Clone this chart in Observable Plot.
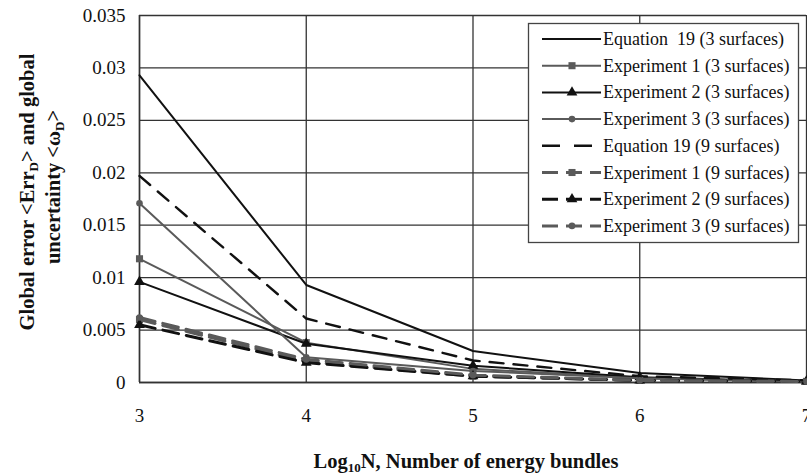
<!DOCTYPE html>
<html>
<head>
<meta charset="utf-8">
<script src="https://cdn.jsdelivr.net/npm/d3@7"></script>
<script src="https://cdn.jsdelivr.net/npm/@observablehq/plot@0.6"></script>
<style>
  html, body { margin: 0; padding: 0; background: #fff; }
  #chart svg { display: block; }
  #chart svg text { font-family: 'Liberation Serif', 'DejaVu Serif', serif; }
</style>
</head>
<body>
<div id="chart"></div>
<script>
// ---- data ----
const logN = [3, 4, 5, 6, 7];
const yTicks = [0, 0.005, 0.01, 0.015, 0.02, 0.025, 0.03, 0.035];
const yTickLabels = ["0", "0.005", "0.01", "0.015", "0.02", "0.025", "0.03", "0.035"];

const seriesNames = [
  "Equation  19 (3 surfaces)",
  "Experiment 1 (3 surfaces)",
  "Experiment 2 (3 surfaces)",
  "Experiment 3 (3 surfaces)",
  "Equation 19 (9 surfaces)",
  "Experiment 1 (9 surfaces)",
  "Experiment 2 (9 surfaces)",
  "Experiment 3 (9 surfaces)"
];
const eq19_3 = [0.0293, 0.0093, 0.0030, 0.0009, 0.0002];
const exp1_3 = [0.0118, 0.0038, 0.0013, 0.0004, 0.0001];
const exp2_3 = [0.0096, 0.0037, 0.0016, 0.0005, 0.0001];
const exp3_3 = [0.0171, 0.0024, 0.0011, 0.0004, 0.0001];
const eq19_9 = [0.0197, 0.0061, 0.0021, 0.0006, 0.0002];
const exp1_9 = [0.0060, 0.0020, 0.0006, 0.0002, 0.0001];
const exp2_9 = [0.0055, 0.0019, 0.0006, 0.0002, 0.0001];
const exp3_9 = [0.0062, 0.0022, 0.0007, 0.0002, 0.0001];

// ---- styles ----
const BLACK = "#111";
const GRAY = "#5a5a5a";
const styles = [
  {values: eq19_3, stroke: BLACK, width: 2, dash: null, symbol: null},
  {values: exp1_3, stroke: GRAY, width: 2, dash: null, symbol: "square"},
  {values: exp2_3, stroke: BLACK, width: 2, dash: null, symbol: "triangle"},
  {values: exp3_3, stroke: GRAY, width: 2, dash: null, symbol: "circle"},
  {values: eq19_9, stroke: BLACK, width: 2.4, dash: "14,10", symbol: null},
  {values: exp1_9, stroke: GRAY, width: 3, dash: "16,8", symbol: "square"},
  {values: exp2_9, stroke: BLACK, width: 3, dash: "16,8", symbol: "triangle"},
  {values: exp3_9, stroke: GRAY, width: 3, dash: "16,8", symbol: "circle"}
];

const marks = [
  Plot.gridX(logN, {stroke: "#333", strokeOpacity: 1, strokeWidth: 1.3}),
  Plot.gridY(yTicks, {stroke: "#333", strokeOpacity: 1, strokeWidth: 1.3}),
  Plot.ruleX([3], {stroke: "#333", strokeWidth: 1.5}),
  Plot.ruleY([0], {stroke: "#333", strokeWidth: 1.5})
];
styles.forEach((s, i) => {
  const data = logN.map((x, j) => ({x, y: s.values[j]}));
  marks.push(Plot.line(data, {
    x: "x", y: "y", stroke: s.stroke, strokeWidth: s.width,
    strokeDasharray: s.dash || undefined, strokeLinejoin: "round"
  }));
  if (s.symbol) {
    marks.push(Plot.dot(data, {
      x: "x", y: "y", symbol: () => s.symbol, fill: s.stroke, stroke: "none",
      r: s.symbol === "circle" ? 3.3 : 4
    }));
  }
});

const chart = Plot.plot({
  width: 807,
  height: 475,
  marginLeft: 139,
  marginRight: 1,
  marginTop: 15,
  marginBottom: 93,
  style: {fontSize: "19px", color: "#111", background: "#fff", overflow: "visible"},
  x: {domain: [3, 7], ticks: logN, tickSize: 0, tickPadding: 26, label: null, tickFormat: d => String(d)},
  y: {domain: [0, 0.035], ticks: yTicks, tickSize: 0, tickPadding: 14, label: null,
      tickFormat: d => yTickLabels[yTicks.findIndex(t => Math.abs(t - d) < 1e-9)]},
  symbol: {type: "identity"},
  marks
});

document.getElementById("chart").appendChild(chart);

// ---- axis titles & legend ----
const svg = d3.select(chart);

// y-axis title (two rotated lines)
const yt1 = svg.append("text")
  .attr("transform", "translate(34,192) rotate(-90)")
  .attr("text-anchor", "middle")
  .style("font-weight", "bold").style("font-size", "20.5px").attr("fill", "#111");
yt1.append("tspan").text("Global error <Err");
yt1.append("tspan").attr("font-size", "13px").attr("dy", 4).text("D");
yt1.append("tspan").attr("dy", -4).text("> and global");

const yt2 = svg.append("text")
  .attr("transform", "translate(60,187) rotate(-90)")
  .attr("text-anchor", "middle")
  .style("font-weight", "bold").style("font-size", "20.5px").attr("fill", "#111");
yt2.append("tspan").text("uncertainty <ω");
yt2.append("tspan").attr("font-size", "13px").attr("dy", 4).text("D");
yt2.append("tspan").attr("dy", -4).text(">");

// x-axis title
const xt = svg.append("text")
  .attr("x", 466).attr("y", 468)
  .attr("text-anchor", "middle")
  .style("font-weight", "bold").style("font-size", "20.5px").attr("fill", "#111");
xt.append("tspan").text("Log");
xt.append("tspan").attr("font-size", "13px").attr("dy", 4).text("10");
xt.append("tspan").attr("dy", -4).text("N, Number of energy bundles");

// legend
const lg = svg.append("g");
lg.append("rect").attr("x", 528.5).attr("y", 23.5).attr("width", 270).attr("height", 219)
  .attr("fill", "#fff").attr("stroke", "#444").attr("stroke-width", 1.3);
styles.forEach((s, i) => {
  const cy = 39 + i * 26.7;
  lg.append("line").attr("x1", 542).attr("x2", 601).attr("y1", cy).attr("y2", cy)
    .attr("stroke", s.stroke).attr("stroke-width", s.width)
    .attr("stroke-dasharray", s.dash ? (i === 4 ? "18,14" : "16,8") : null);
  if (s.symbol) {
    const sym = s.symbol === "square" ? d3.symbolSquare : s.symbol === "triangle" ? d3.symbolTriangle : d3.symbolCircle;
    const size = s.symbol === "circle" ? 34 : 50;
    lg.append("path").attr("d", d3.symbol(sym, size)()).attr("transform", `translate(572,${cy})`)
      .attr("fill", s.stroke);
  }
  lg.append("text").attr("x", 603).attr("y", cy + 6)
    .attr("text-anchor", "start")
    .style("font-size", "18px").attr("fill", "#111")
    .text(seriesNames[i]);
});
</script>
</body>
</html>
